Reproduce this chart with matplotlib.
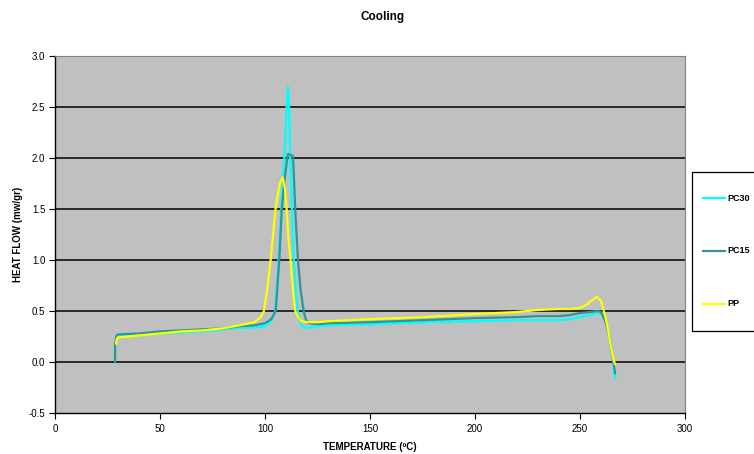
import matplotlib
matplotlib.use("Agg")
import matplotlib.pyplot as plt
from matplotlib.patches import Rectangle
from matplotlib.lines import Line2D

series_names = ["PC30", "PC15", "PP"]
series_colors = ["#00FFFF", "#2E9696", "#FFFF00"]

pc30_x = [28.6, 28.6, 29.5, 30, 40, 50, 60, 70, 80, 88, 95, 100, 103, 104.8, 106.5, 108, 109.2, 110.3,
          110.9, 111.4, 112, 112.8, 113.7, 114.6, 115.6, 116.6, 117.7, 120, 122, 125, 130, 150, 175,
          200, 220, 230, 240, 245, 250, 255, 258, 260, 262, 264, 265.5, 266.3, 266.7]
pc30_y = [0.02, 0.18, 0.24, 0.25, 0.26, 0.28, 0.29, 0.30, 0.32, 0.335, 0.34, 0.35, 0.40, 0.50, 1.0, 1.6,
          2.0, 2.5, 2.70, 2.55, 2.0, 1.5, 1.0, 0.7, 0.5, 0.40, 0.35, 0.33, 0.34, 0.35, 0.36, 0.37, 0.39,
          0.40, 0.41, 0.41, 0.41, 0.42, 0.44, 0.46, 0.48, 0.48, 0.42, 0.25, 0.05, -0.10, -0.16]

pc15_x = [28.6, 28.6, 29.3, 30, 40, 50, 60, 70, 80, 88, 95, 100, 103, 105.1, 106.8, 108, 109.4, 110.6,
          110.9, 113.3, 113.8, 114.4, 115.7, 117, 118.4, 119.4, 120.5, 125, 130, 150, 175, 200, 220,
          230, 240, 245, 250, 255, 258.6, 260, 262, 264, 265.5, 266.3, 266.7]
pc15_y = [0.0, 0.18, 0.26, 0.27, 0.28, 0.30, 0.31, 0.32, 0.33, 0.35, 0.36, 0.38, 0.42, 0.50, 1.0, 1.5,
          1.8, 2.0, 2.04, 2.02, 1.8, 1.5, 1.0, 0.7, 0.5, 0.42, 0.38, 0.37, 0.38, 0.39, 0.41, 0.43, 0.44,
          0.45, 0.45, 0.46, 0.48, 0.49, 0.50, 0.49, 0.40, 0.25, 0.05, -0.05, -0.11]

pp_x = [29.0, 29.5, 30, 40, 50, 60, 70, 80, 88, 95, 98, 99.5, 101, 102.7, 105, 107, 108.4, 109.5, 110.3,
        111.2, 112.2, 113.3, 114.4, 116, 117.5, 120, 125, 130, 150, 175, 200, 220, 230, 240, 245, 250,
        253, 256, 258, 260, 262, 263.5, 265, 266, 266.7]
pp_y = [0.18, 0.23, 0.24, 0.26, 0.28, 0.30, 0.31, 0.33, 0.36, 0.39, 0.44, 0.50, 0.70, 1.0, 1.5, 1.75,
        1.81, 1.70, 1.5, 1.2, 1.0, 0.7, 0.5, 0.43, 0.40, 0.39, 0.39, 0.40, 0.42, 0.44, 0.47, 0.49, 0.51,
        0.52, 0.52, 0.53, 0.56, 0.61, 0.64, 0.60, 0.45, 0.30, 0.12, 0.02, -0.02]

x_ticks = [0, 50, 100, 150, 200, 250, 300]
y_ticks = [-0.5, 0.0, 0.5, 1.0, 1.5, 2.0, 2.5, 3.0]

plt.rcParams['font.family'] = ['Liberation Sans', 'DejaVu Sans']

W, H = 754, 454
fig = plt.figure(figsize=(W / 100, H / 100), dpi=100)
ax = fig.add_axes([55 / W, 1 - 413 / H, 630 / W, 357 / H])
ax.set_facecolor("#C0C0C0")

for xs, ys, c in zip([pc30_x, pc15_x, pp_x], [pc30_y, pc15_y, pp_y], series_colors):
    ax.plot(xs, ys, color=c, lw=1.6, solid_joinstyle='round', zorder=3)

ax.set_xlim(0, 300)
ax.set_ylim(-0.5, 3.0)
ax.set_xticks(x_ticks)
ax.set_xticklabels([str(v) for v in x_ticks])
ax.set_yticks(y_ticks)
ax.set_yticklabels([f"{v:.1f}" for v in y_ticks])
for v in y_ticks[1:-1]:
    ax.axhline(v, color="black", lw=1.1, zorder=1)
ax.tick_params(axis='both', labelsize=7, length=4, width=0.8, direction='out', colors='black')
ax.tick_params(axis='x', pad=4)
ax.tick_params(axis='y', pad=3)
for s in ['left', 'bottom']:
    ax.spines[s].set_color('black')
    ax.spines[s].set_linewidth(1.0)
for s in ['top', 'right']:
    ax.spines[s].set_color('#808080')
    ax.spines[s].set_linewidth(0.8)

ax.set_xlabel("TEMPERATURE (ºC)", fontsize=7, fontweight='bold')
ax.xaxis.set_label_coords(0.5, (413 - 447) / 357)
ax.xaxis.label.set_va('center')
ax.set_ylabel("HEAT FLOW (mw/gr)", fontsize=7, fontweight='bold')
ax.yaxis.set_label_coords((18 - 55) / 630, 0.5)
ax.yaxis.label.set_va('center')
fig.text(383 / W, 1 - 17 / H, "Cooling", ha='center', va='center', fontsize=8.5, fontweight='bold')

# legend box
fig.add_artist(Rectangle((692 / W, 1 - 331 / H), 80 / W, 159 / H, transform=fig.transFigure,
                         facecolor='white', edgecolor='black', lw=0.9))
leg_y = [198, 251, 304]
for name, c, yy in zip(series_names, series_colors, leg_y):
    fig.add_artist(Line2D([703 / W, 725 / W], [1 - yy / H, 1 - yy / H], transform=fig.transFigure,
                          color=c, lw=1.6))
    fig.text(727 / W, 1 - yy / H, name, ha='left', va='center', fontsize=6.5, fontweight='bold')

fig.savefig("out.png", dpi=100)
